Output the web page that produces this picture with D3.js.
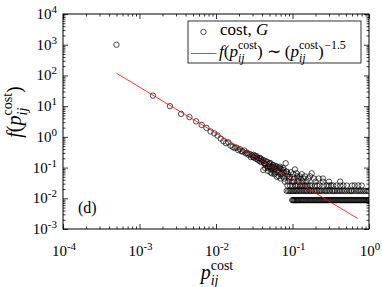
<!DOCTYPE html>
<html>
<head>
<meta charset="utf-8">
<script src="https://cdn.jsdelivr.net/npm/d3@7"></script>
<style>
  body { margin: 0; background: #fff; }
  text { font-family: "Liberation Serif", "Times New Roman", serif; fill: #000; }
</style>
</head>
<body>
<svg id="chart" width="382" height="287" font-family="Liberation Serif, serif"></svg>
<script>
// ---- data ----
const trendX = [0.0005, 0.0015, 0.0025, 0.0035, 0.0045, 0.0055, 0.0065, 0.0075, 0.0085, 0.0095,
  0.0105, 0.0115, 0.0125, 0.0135, 0.0145, 0.0155, 0.0165, 0.0175, 0.0185, 0.0195,
  0.0205, 0.0215, 0.0225, 0.0235, 0.0245, 0.0255, 0.0265, 0.0275, 0.0285, 0.0295,
  0.0305, 0.0315, 0.0325, 0.0335, 0.0345, 0.0355, 0.0365, 0.0375, 0.0385, 0.0395,
  0.0405, 0.0415, 0.0425, 0.0435, 0.0445, 0.0455, 0.0465, 0.0475, 0.0485, 0.0495,
  0.0505, 0.0515, 0.0525, 0.0535, 0.0545, 0.0555, 0.0565, 0.0575, 0.0585, 0.0595,
  0.0605, 0.0625, 0.0635, 0.0645, 0.0665, 0.0685, 0.0695, 0.0715, 0.0725, 0.0745,
  0.0755, 0.0775, 0.0815, 0.0835, 0.0855, 0.0875, 0.0905, 0.0925, 0.0955, 0.1025,
  0.1075, 0.1125, 0.1175, 0.124, 0.132, 0.14, 0.17, 0.178, 0.22,
  0.031, 0.034, 0.038, 0.042, 0.05, 0.056, 0.062, 0.069, 0.076, 0.084,
  0.044, 0.048, 0.052, 0.058, 0.066, 0.07, 0.078, 0.088,
  0.105, 0.115, 0.128, 0.145, 0.16, 0.19, 0.25];
const trendY = [1000, 22, 10, 5.6, 4.4, 3.2, 2.45, 1.95, 1.5, 1.3,
  1.1, 0.88, 0.72, 0.62, 0.66, 0.52, 0.47, 0.43, 0.45, 0.37,
  0.4, 0.34, 0.33, 0.36, 0.29, 0.3, 0.26, 0.28, 0.22, 0.25,
  0.225, 0.21, 0.24, 0.19, 0.21, 0.178, 0.2, 0.16, 0.19, 0.15,
  0.17, 0.083, 0.14, 0.13, 0.16, 0.12, 0.155, 0.1, 0.106, 0.13,
  0.11, 0.14, 0.09, 0.065, 0.1, 0.12, 0.08, 0.104, 0.07, 0.09,
  0.113, 0.05, 0.083, 0.07, 0.096, 0.107, 0.061, 0.087, 0.065, 0.052,
  0.096, 0.07, 0.138, 0.073, 0.052, 0.061, 0.044, 0.05, 0.07, 0.061,
  0.087, 0.065, 0.044, 0.052, 0.061, 0.044, 0.052, 0.065, 0.044,
  0.26, 0.235, 0.205, 0.175, 0.14, 0.12, 0.104, 0.094, 0.083, 0.073,
  0.096, 0.078, 0.07, 0.061, 0.052, 0.044, 0.044, 0.035,
  0.044, 0.052, 0.044, 0.052, 0.044, 0.044, 0.044];

// rows of one / two / three / four counts at large p
const rowLevels = [0.0087, 0.0174, 0.0261, 0.0348];
const row1X = [0.099, 0.102, 0.104, 0.107, 0.11, 0.113, 0.116, 0.119, 0.123, 0.127, 0.131, 0.135,
  0.139, 0.143, 0.148, 0.152, 0.157, 0.162, 0.167, 0.172, 0.177, 0.182, 0.188, 0.194,
  0.2, 0.206, 0.212, 0.219, 0.225, 0.232, 0.239, 0.247, 0.254, 0.262, 0.27, 0.278,
  0.287, 0.296, 0.305, 0.314, 0.324, 0.334, 0.344, 0.354, 0.365, 0.376, 0.388, 0.4,
  0.412, 0.425, 0.438, 0.451, 0.465, 0.479, 0.494, 0.509, 0.524, 0.54, 0.557, 0.574,
  0.591, 0.609, 0.628, 0.647, 0.667, 0.687, 0.708, 0.73, 0.752, 0.775, 0.799, 0.823,
  0.848, 0.874, 0.9, 0.928, 0.956, 0.985, 0.999];
const row2X = [0.084, 0.088, 0.092, 0.096, 0.1, 0.104, 0.108, 0.113, 0.117, 0.122, 0.128, 0.133,
  0.14, 0.146, 0.152, 0.158, 0.166, 0.173, 0.18, 0.19, 0.2, 0.21, 0.22, 0.23, 0.24,
  0.255, 0.27, 0.28, 0.295, 0.31, 0.33, 0.345, 0.36, 0.38, 0.4, 0.42, 0.44, 0.465,
  0.49, 0.52, 0.55, 0.58, 0.6, 0.64, 0.68, 0.72, 0.76, 0.8, 0.85, 0.9, 0.95, 0.99];
const row3X = [0.086, 0.093, 0.1, 0.108, 0.112, 0.118, 0.125, 0.132, 0.139, 0.146, 0.153,
  0.161, 0.17, 0.178, 0.197, 0.21, 0.225, 0.253, 0.28, 0.3, 0.32, 0.341, 0.378, 0.42,
  0.461, 0.511, 0.6, 0.65, 0.725, 0.803];
const row4X = [0.0795, 0.0985, 0.104, 0.12, 0.135, 0.152, 0.2, 0.25, 0.3, 0.42];

// power-law guide f ~ p^-1.5
const fitX = [0.0005, 0.71];
const fitY = [118, 0.0022];

const xTicks = [1e-4, 1e-3, 1e-2, 1e-1, 1];
const xTickExp = ["-4", "-3", "-2", "-1", "0"];
const yTicks = [1e-3, 1e-2, 1e-1, 1, 1e1, 1e2, 1e3, 1e4];
const yTickExp = ["-3", "-2", "-1", "0", "1", "2", "3", "4"];

// ---- layout ----
const W = 382, H = 287;
const margin = { left: 63, right: 13, top: 14, bottom: 58 };
const svg = d3.select("#chart");

const x = d3.scaleLog().domain([1e-4, 1]).range([margin.left, W - margin.right]);
const y = d3.scaleLog().domain([1e-3, 1e4]).range([H - margin.bottom, margin.top]);

const minors = (lo, hi) => {
  const out = [];
  for (let e = lo; e < hi; e++) for (let m = 2; m <= 9; m++) out.push(m * Math.pow(10, e));
  return out;
};
const xMinor = minors(-4, 0), yMinor = minors(-3, 4);
const majorLen = 5, minorLen = 2.5;

svg.append("clipPath").attr("id", "plotclip").append("rect")
  .attr("x", x.range()[0]).attr("y", y.range()[1])
  .attr("width", x.range()[1] - x.range()[0]).attr("height", y.range()[0] - y.range()[1]);

// ---- points ----
const pts = trendX.map((d, i) => [d, trendY[i]]);
[row1X, row2X, row3X, row4X].forEach((arr, k) => arr.forEach(v => pts.push([v, rowLevels[k]])));

svg.append("g").attr("clip-path", "url(#plotclip)")
  .selectAll("circle").data(pts).enter().append("circle")
  .attr("cx", d => x(d[0])).attr("cy", d => y(d[1])).attr("r", 2.7)
  .attr("fill", "none").attr("stroke", "#000").attr("stroke-width", 0.7);

svg.append("path")
  .datum(fitX.map((d, i) => [d, fitY[i]]))
  .attr("d", d3.line().x(d => x(d[0])).y(d => y(d[1])))
  .attr("fill", "none").attr("stroke", "#ff0000").attr("stroke-width", 0.8);

// ---- axes (ticks inward on all four sides) ----
function tickAxis(axisFn, scale, values, len, transform) {
  svg.append("g").attr("transform", transform)
    .call(axisFn(scale).tickValues(values).tickSize(-len).tickSizeOuter(0).tickFormat(""))
    .call(g => g.select(".domain").remove())
    .call(g => g.selectAll("line").attr("stroke", "#000").attr("stroke-width", 0.8));
}
const yb = y.range()[0], yt = y.range()[1], xl = x.range()[0], xr = x.range()[1];
tickAxis(d3.axisBottom, x, xTicks, majorLen, `translate(0,${yb})`);
tickAxis(d3.axisBottom, x, xMinor, minorLen, `translate(0,${yb})`);
tickAxis(d3.axisTop, x, xTicks, majorLen, `translate(0,${yt})`);
tickAxis(d3.axisTop, x, xMinor, minorLen, `translate(0,${yt})`);
tickAxis(d3.axisLeft, y, yTicks, majorLen, `translate(${xl},0)`);
tickAxis(d3.axisLeft, y, yMinor, minorLen, `translate(${xl},0)`);
tickAxis(d3.axisRight, y, yTicks, majorLen, `translate(${xr},0)`);
tickAxis(d3.axisRight, y, yMinor, minorLen, `translate(${xr},0)`);

svg.append("rect").attr("x", xl).attr("y", yt).attr("width", xr - xl).attr("height", yb - yt)
  .attr("fill", "none").attr("stroke", "#000").attr("stroke-width", 1);

// tick labels 10^k
function powerLabel(g, exp, anchor) {
  const t = g.append("text").attr("text-anchor", anchor);
  t.append("tspan").attr("font-size", 15).text("10");
  t.append("tspan").attr("font-size", 11).attr("dy", -6).text(exp);
  return t;
}
xTicks.forEach((v, i) => {
  powerLabel(svg.append("g").attr("transform", `translate(${x(v) + 1},${yb + 27})`), xTickExp[i], "middle");
});
yTicks.forEach((v, i) => {
  powerLabel(svg.append("g").attr("transform", `translate(${xl - 6},${y(v) + 5})`), yTickExp[i], "end");
});

// ---- math-like text with stacked sub/superscripts ----
function mathText(parent, pieces, size) {
  const t = parent.append("text").attr("font-size", size);
  let base = 0, pending = 0;
  for (let i = 0; i < pieces.length; i++) {
    const p = pieces[i];
    const target = (p.dy || 0) * size;
    const sp = t.append("tspan").attr("font-size", size * (p.s || 1)).text(p.t)
      .attr("dy", target - base);
    if (p.it) sp.attr("font-style", "italic");
    const gap = pending + (p.dx || 0);
    if (gap) sp.attr("dx", gap);
    pending = 0;
    base = target;
    if (p.stack) {
      const w1 = sp.node().getComputedTextLength();
      const q = pieces[++i];
      const t2 = (q.dy || 0) * size;
      const sq = t.append("tspan").attr("font-size", size * (q.s || 1)).text(q.t)
        .attr("dx", -w1).attr("dy", t2 - base);
      if (q.it) sq.attr("font-style", "italic");
      base = t2;
      const w2 = sq.node().getComputedTextLength();
      pending = Math.max(0, w1 - w2);
    }
  }
  return t;
}
const pij = [
  { t: "p", it: 1 },
  { t: "cost", s: 0.7, dy: -0.45, stack: true },
  { t: "ij", it: 1, s: 0.7, dy: 0.28 }
];
const fTerm = [{ t: "f", it: 1 }, { t: "(" }, ...pij, { t: ")", dy: 0 }];

// x title
const xt = mathText(svg.append("g"), pij, 20);
let bb = xt.node().getBBox();
xt.attr("transform", `translate(${(xl + xr) / 2 - bb.x - bb.width / 2},${279})`);

// y title
const ytg = svg.append("g");
const ytt = mathText(ytg, fTerm, 20);
bb = ytt.node().getBBox();
ytt.attr("x", -bb.width / 2);
ytg.attr("transform", `translate(21,${112}) rotate(-90)`);

// panel tag
svg.append("text").attr("x", 78).attr("y", 213).attr("font-size", 16).text("(d)");

// ---- legend ----
const lg = svg.append("g");
lg.append("rect").attr("x", 188).attr("y", 21).attr("width", 173).attr("height", 42)
  .attr("fill", "#fff").attr("stroke", "#000").attr("stroke-width", 0.8);
lg.append("circle").attr("cx", 203.5).attr("cy", 32).attr("r", 2.7)
  .attr("fill", "none").attr("stroke", "#000").attr("stroke-width", 0.7);
lg.append("line").attr("x1", 191).attr("x2", 216.5).attr("y1", 53.5).attr("y2", 53.5)
  .attr("stroke", "#ff0000").attr("stroke-width", 0.8);
mathText(lg.append("g").attr("transform", "translate(220,34.5)"),
  [{ t: "cost, " }, { t: "G", it: 1 }], 17);
mathText(lg.append("g").attr("transform", "translate(219,57)"),
  [...fTerm, { t: "\u223C", dx: 4 }, { t: "(", dx: 4 }, ...pij, { t: ")", dy: 0 },
   { t: "\u22121.5", s: 0.7, dy: -0.45, dx: 0.5 }], 17);
</script>
</body>
</html>
